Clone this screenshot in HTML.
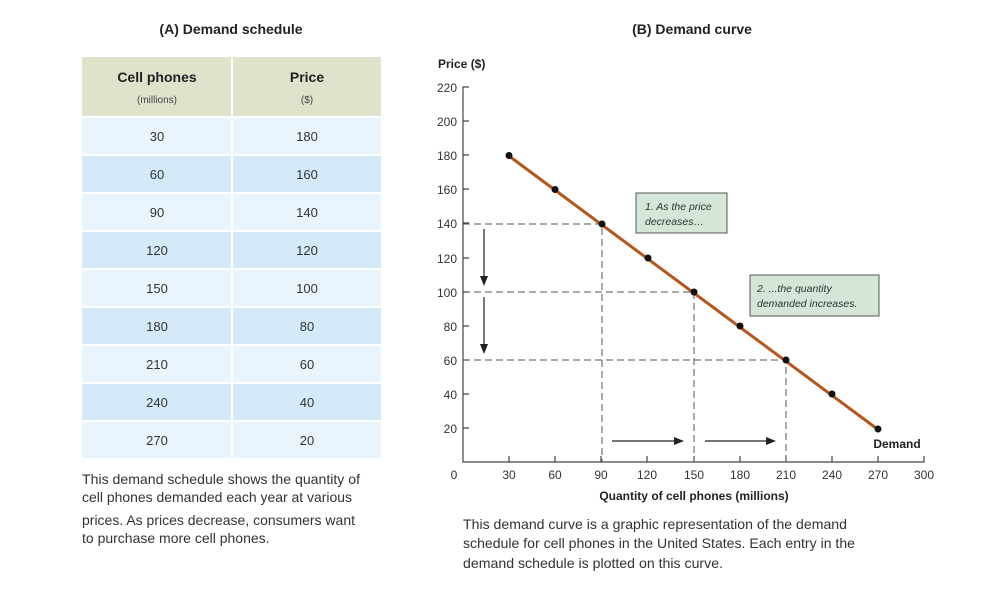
<!DOCTYPE html>
<html><head><meta charset="utf-8"><style>
body{margin:0;background:#fff;}
svg{display:block;font-family:"Liberation Sans",sans-serif;}
</style></head><body>
<svg width="996" height="596" viewBox="0 0 996 596" xmlns="http://www.w3.org/2000/svg">
<text x="231" y="34" text-anchor="middle" font-size="14" font-weight="bold" fill="#222">(A) Demand schedule</text>
<text x="692" y="34" text-anchor="middle" font-size="14" font-weight="bold" fill="#222">(B) Demand curve</text>
<!-- table -->
<rect x="82" y="57" width="149" height="59" fill="#dfe3cc"/>
<rect x="233" y="57" width="148" height="59" fill="#dfe3cc"/>
<text x="157" y="82" text-anchor="middle" font-size="14" font-weight="bold" fill="#222">Cell phones</text>
<text x="157" y="103" text-anchor="middle" font-size="10" fill="#444">(millions)</text>
<text x="307" y="82" text-anchor="middle" font-size="14" font-weight="bold" fill="#222">Price</text>
<text x="307" y="103" text-anchor="middle" font-size="10" fill="#444">($)</text>
<g font-size="13" fill="#333" text-anchor="middle">
<rect x="82" y="118" width="149" height="36" fill="#eaf4fc"/><rect x="233" y="118" width="148" height="36" fill="#eaf4fc"/>
<text x="157" y="141">30</text><text x="307" y="141">180</text>
<rect x="82" y="156" width="149" height="36" fill="#d5eaf8"/><rect x="233" y="156" width="148" height="36" fill="#d5eaf8"/>
<text x="157" y="179">60</text><text x="307" y="179">160</text>
<rect x="82" y="194" width="149" height="36" fill="#eaf4fc"/><rect x="233" y="194" width="148" height="36" fill="#eaf4fc"/>
<text x="157" y="217">90</text><text x="307" y="217">140</text>
<rect x="82" y="232" width="149" height="36" fill="#d5eaf8"/><rect x="233" y="232" width="148" height="36" fill="#d5eaf8"/>
<text x="157" y="255">120</text><text x="307" y="255">120</text>
<rect x="82" y="270" width="149" height="36" fill="#eaf4fc"/><rect x="233" y="270" width="148" height="36" fill="#eaf4fc"/>
<text x="157" y="293">150</text><text x="307" y="293">100</text>
<rect x="82" y="308" width="149" height="36" fill="#d5eaf8"/><rect x="233" y="308" width="148" height="36" fill="#d5eaf8"/>
<text x="157" y="331">180</text><text x="307" y="331">80</text>
<rect x="82" y="346" width="149" height="36" fill="#eaf4fc"/><rect x="233" y="346" width="148" height="36" fill="#eaf4fc"/>
<text x="157" y="369">210</text><text x="307" y="369">60</text>
<rect x="82" y="384" width="149" height="36" fill="#d5eaf8"/><rect x="233" y="384" width="148" height="36" fill="#d5eaf8"/>
<text x="157" y="407">240</text><text x="307" y="407">40</text>
<rect x="82" y="422" width="149" height="36" fill="#eaf4fc"/><rect x="233" y="422" width="148" height="36" fill="#eaf4fc"/>
<text x="157" y="445">270</text><text x="307" y="445">20</text>
</g>
<g font-size="14" fill="#333">
<text x="82" y="484" textLength="278" lengthAdjust="spacingAndGlyphs">This demand schedule shows the quantity of</text>
<text x="82" y="502" textLength="270" lengthAdjust="spacingAndGlyphs">cell phones demanded each year at various</text>
<text x="82" y="525" textLength="273" lengthAdjust="spacingAndGlyphs">prices. As prices decrease, consumers want</text>
<text x="82" y="543">to purchase more cell phones.</text>
</g>
<!-- chart -->
<text x="438" y="68" font-size="12" font-weight="bold" fill="#222">Price ($)</text>
<g stroke="#444" stroke-width="1.2" fill="none">
<path d="M469,87 H463 V462 H924 V456"/>
<path d="M463,121H469M463,155H469M463,189H469M463,223H469M463,258H469M463,292H469M463,326H469M463,360H469M463,394H469M463,428H469"/>
<path d="M509,462V456M555,462V456M601,462V456M647,462V456M694,462V456M740,462V456M786,462V456M832,462V456M878,462V456"/>
</g>
<g font-size="12" fill="#333" text-anchor="end">
<text x="457" y="92">220</text><text x="457" y="126">200</text><text x="457" y="160">180</text><text x="457" y="194">160</text><text x="457" y="228">140</text><text x="457" y="263">120</text><text x="457" y="297">100</text><text x="457" y="331">80</text><text x="457" y="365">60</text><text x="457" y="399">40</text><text x="457" y="433">20</text>
</g>
<g font-size="12" fill="#333" text-anchor="middle">
<text x="454" y="479">0</text><text x="509" y="479">30</text><text x="555" y="479">60</text><text x="601" y="479">90</text><text x="647" y="479">120</text><text x="694" y="479">150</text><text x="740" y="479">180</text><text x="786" y="479">210</text><text x="832" y="479">240</text><text x="878" y="479">270</text><text x="924" y="479">300</text>
</g>
<text x="694" y="500" text-anchor="middle" font-size="12" font-weight="bold" fill="#222">Quantity of cell phones (millions)</text>
<g stroke="#555" stroke-width="1" stroke-dasharray="7,4" fill="none">
<path d="M463,224H602V462M463,292H694V462M463,360H786V462"/>
</g>
<line x1="509" y1="156" x2="880" y2="431" stroke="#b5561d" stroke-width="3"/>
<g fill="#111">
<circle cx="509" cy="155.5" r="3.5"/><circle cx="555" cy="189.5" r="3.5"/><circle cx="602" cy="224" r="3.5"/><circle cx="648" cy="258" r="3.5"/><circle cx="694" cy="292" r="3.5"/><circle cx="740" cy="326" r="3.5"/><circle cx="786" cy="360" r="3.5"/><circle cx="832" cy="394" r="3.5"/><circle cx="878" cy="429" r="3.5"/>
</g>
<g stroke="#222" stroke-width="1.2" fill="#222">
<line x1="484" y1="229" x2="484" y2="280"/><path d="M480,276L488,276L484,286Z" stroke="none"/>
<line x1="484" y1="297" x2="484" y2="348"/><path d="M480,344L488,344L484,354Z" stroke="none"/>
<line x1="612" y1="441" x2="678" y2="441"/><path d="M674,437L674,445L684,441Z" stroke="none"/>
<line x1="705" y1="441" x2="770" y2="441"/><path d="M766,437L766,445L776,441Z" stroke="none"/>
</g>
<text x="897" y="448" text-anchor="middle" font-size="12" font-weight="bold" fill="#222">Demand</text>
<rect x="636" y="193" width="91" height="40" fill="#d3e6d8" stroke="#555" stroke-width="1"/>
<text x="645" y="210" font-size="10.5" font-style="italic" fill="#333">1. As the price</text>
<text x="645" y="225" font-size="10.5" font-style="italic" fill="#333">decreases…</text>
<rect x="750" y="275" width="129" height="41" fill="#d3e6d8" stroke="#555" stroke-width="1"/>
<text x="757" y="292" font-size="10.5" font-style="italic" fill="#333">2.  ...the quantity</text>
<text x="757" y="307" font-size="10.5" font-style="italic" fill="#333">demanded increases.</text>
<g font-size="14" fill="#333">
<text x="463" y="529" textLength="384" lengthAdjust="spacingAndGlyphs">This demand curve is a graphic representation of the demand</text>
<text x="463" y="548" textLength="392" lengthAdjust="spacingAndGlyphs">schedule for cell phones in the United States. Each entry in the</text>
<text x="463" y="568" textLength="260" lengthAdjust="spacingAndGlyphs">demand schedule is plotted on this curve.</text>
</g>
</svg>
</body></html>
